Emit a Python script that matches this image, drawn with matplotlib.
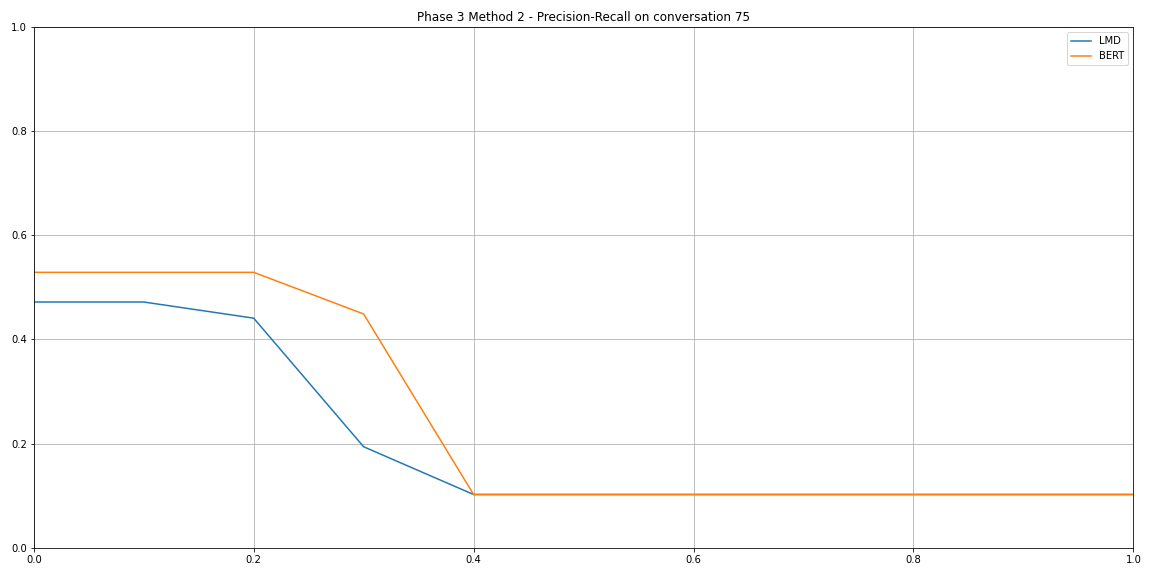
import matplotlib
matplotlib.use("Agg")
import matplotlib.pyplot as plt

recall = [0.0, 0.1, 0.2, 0.3, 0.4, 0.5, 0.6, 0.7, 0.8, 0.9, 1.0]
precision_lmd = [0.472, 0.472, 0.441, 0.194, 0.1023, 0.1023, 0.1023, 0.1023, 0.1023, 0.1023, 0.1023]
precision_bert = [0.529, 0.529, 0.529, 0.449, 0.1023, 0.1023, 0.1023, 0.1023, 0.1023, 0.1023, 0.1023]

fig, ax = plt.subplots(figsize=(16, 8), dpi=72)
ax.plot(recall, precision_lmd, label="LMD")
ax.plot(recall, precision_bert, label="BERT")
ax.set_xlim(0, 1)
ax.set_ylim(0, 1)
ax.grid(True)
ax.legend(loc="upper right")
ax.set_title("Phase 3 Method 2 - Precision-Recall on conversation 75")
fig.subplots_adjust(left=0.0293, right=0.9838, bottom=0.049, top=0.953)
fig.savefig("out.png", dpi=72)
